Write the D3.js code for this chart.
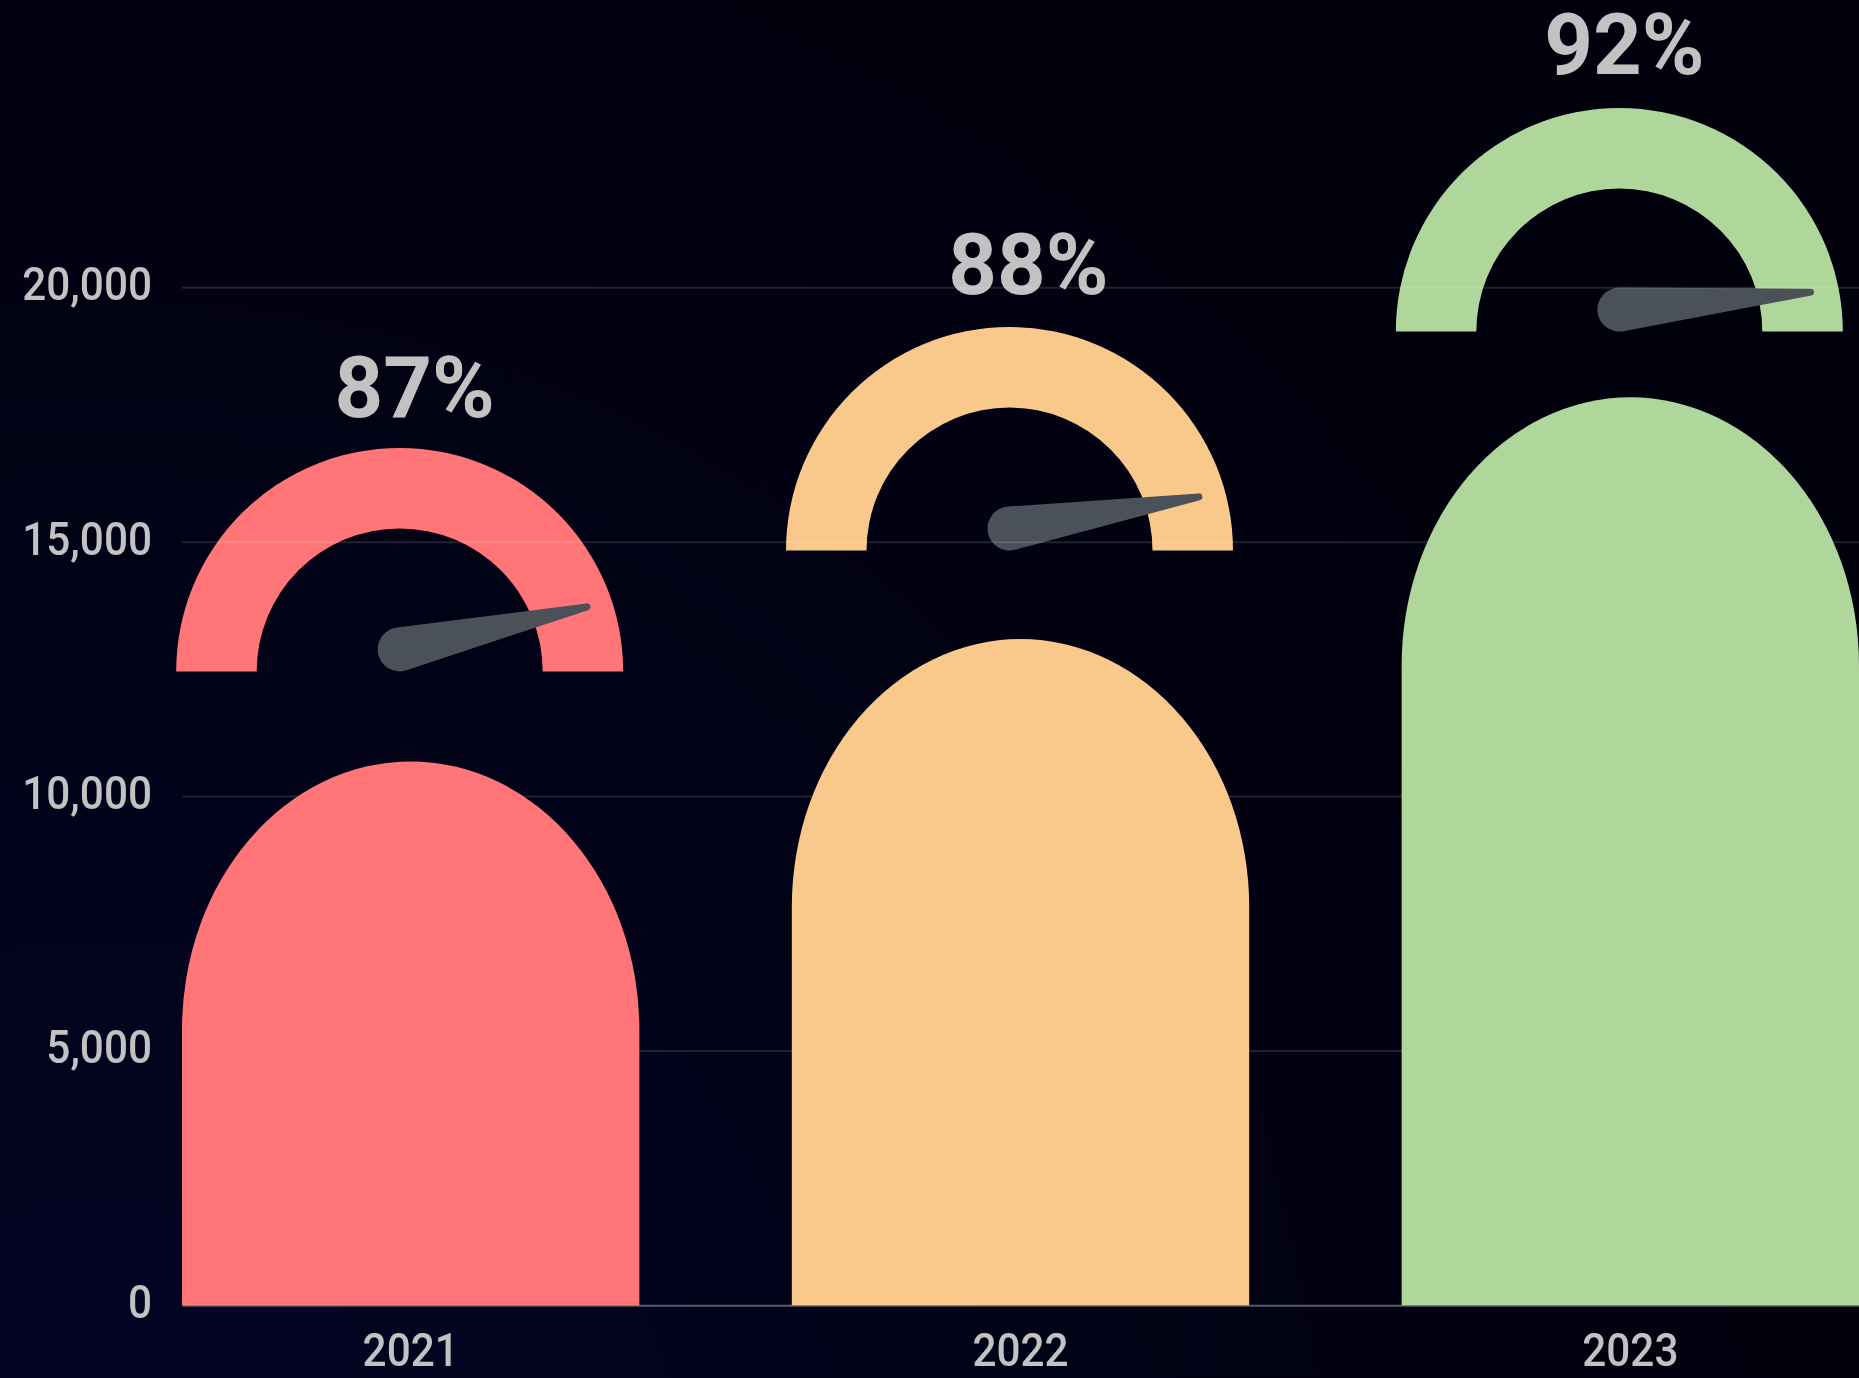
<!DOCTYPE html>
<html>
    <head>
        <title>Pictorial gauge bars</title>
        <script src="https://d3js.org/d3.v7.min.js"></script>
        <style>
            html, body { margin: 0; padding: 0; background: #01010f; overflow: hidden; }
            text { font-family: Roboto, sans-serif; fill: #c2c2c2; }
            svg { filter: blur(0.5px); }
        </style>
    </head>
    <body>
        <script type='text/javascript'>
            // chart values
            var years = ['2021', '2022', '2023'];
            var barValues = [10690, 13100, 17850];
            var gaugeBaseValues = [12460, 14835, 19140];
            var percents = [87, 88, 92];
            var needleDegrees = [12.8, 9.5, 5.2];
            var barColors = ['#ff7578', '#f8c98b', '#afd69b'];
            var yTicks = [0, 5000, 10000, 15000, 20000];

            var w = 1859;
            var h = 1378;

            // layout, in pixels
            var left = 182;
            var baseline = 1305.3;
            var capHeight = 268;
            var gaugeOuter = 223.5;
            var gaugeInner = 143;
            var gaugeShift = -11;
            var hubRadius = 22;
            var tipRadius = 3.5;
            var needleLength = 192;
            var labelShift = [15, 19, 5];
            var labelRise = [31, 33, 34.5];
            var narrow = 0.92;

            var xScale = d3.scaleBand()
                            .domain(years)
                            .range([left, w])
                            .paddingInner(0.25);

            var yScale = d3.scaleLinear()
                            .domain([0, 20000])
                            .range([baseline, 287.8]);

            var svg = d3.select('body')
                        .append('svg')
                        .attr('width', w)
                        .attr('height', h)
                        .style('display', 'block');

            // background glow from the bottom left corner
            var glow = svg.append('defs')
                            .append('radialGradient')
                            .attr('id', 'glow')
                            .attr('gradientUnits', 'userSpaceOnUse')
                            .attr('cx', 100)
                            .attr('cy', h + 150)
                            .attr('r', 1700);
            glow.append('stop').attr('offset', '0%').attr('stop-color', '#040526');
            glow.append('stop').attr('offset', '50%').attr('stop-color', '#020218');
            glow.append('stop').attr('offset', '100%').attr('stop-color', '#01010e');

            svg.append('rect')
                .attr('width', w)
                .attr('height', h)
                .attr('fill', 'url(#glow)');

            // gauges sit under the grid, the bars on top of it
            var arc = d3.arc()
                        .innerRadius(gaugeInner)
                        .outerRadius(gaugeOuter)
                        .startAngle(-Math.PI / 2)
                        .endAngle(Math.PI / 2);

            var gauges = svg.selectAll('.gauge')
                            .data(years)
                            .enter()
                            .append('g')
                            .attr('class', 'gauge')
                            .attr('transform', function(d, i) {
                                return 'translate(' + (xScale(d) + xScale.bandwidth() / 2 + gaugeShift) + ',' + yScale(gaugeBaseValues[i]) + ')';
                            });

            gauges.append('path')
                .attr('d', arc())
                .attr('fill', function(d, i) { return barColors[i]; });

            // needle: hub circle and tip circle joined by their tangents
            var sinA = (hubRadius - tipRadius) / needleLength;
            var cosA = Math.sqrt(1 - sinA * sinA);
            var needle = 'M' + (hubRadius * sinA) + ',' + (-hubRadius * cosA)
                + 'L' + (needleLength + tipRadius * sinA) + ',' + (-tipRadius * cosA)
                + 'A' + tipRadius + ',' + tipRadius + ' 0 0 1 ' + (needleLength + tipRadius * sinA) + ',' + (tipRadius * cosA)
                + 'L' + (hubRadius * sinA) + ',' + (hubRadius * cosA)
                + 'A' + hubRadius + ',' + hubRadius + ' 0 1 1 ' + (hubRadius * sinA) + ',' + (-hubRadius * cosA) + 'Z';

            gauges.append('path')
                .attr('d', needle)
                .attr('fill', '#4b5159')
                .attr('transform', function(d, i) {
                    return 'translate(0,' + (-hubRadius) + ') rotate(' + (-needleDegrees[i]) + ')';
                });

            gauges.append('text')
                .attr('x', function(d, i) { return labelShift[i]; })
                .attr('y', function(d, i) { return -gaugeOuter - labelRise[i]; })
                .attr('text-anchor', 'middle')
                .attr('font-size', 85)
                .attr('font-weight', 700)
                .text(function(d, i) { return percents[i] + '%'; });

            // y axis and grid
            var yAxis = d3.axisLeft(yScale)
                            .tickValues(yTicks)
                            .tickFormat(d3.format(','))
                            .tickSize(0)
                            .tickPadding(30);

            var yG = svg.append('g')
                        .attr('transform', 'translate(' + left + ',0)')
                        .call(yAxis);
            yG.select('.domain').remove();
            yG.selectAll('.tick text')
                .attr('font-size', 46)
                .attr('dy', 12);

            svg.append('g')
                .selectAll('line')
                .data(yTicks.slice(1))
                .enter()
                .append('line')
                .attr('x1', left)
                .attr('x2', w)
                .attr('y1', function(d) { return yScale(d); })
                .attr('y2', function(d) { return yScale(d); })
                .attr('stroke', 'rgba(255,255,255,0.13)')
                .attr('stroke-width', 2);

            // bars with an elliptical cap
            svg.selectAll('.bar')
                .data(years)
                .enter()
                .append('path')
                .attr('class', 'bar')
                .attr('fill', function(d, i) { return barColors[i]; })
                .attr('d', function(d, i) {
                    var x0 = xScale(d);
                    var x1 = x0 + xScale.bandwidth();
                    var rx = xScale.bandwidth() / 2;
                    var top = yScale(barValues[i]);
                    return 'M' + x0 + ',' + baseline
                        + 'L' + x0 + ',' + (top + capHeight)
                        + 'A' + rx + ',' + capHeight + ' 0 0 1 ' + x1 + ',' + (top + capHeight)
                        + 'L' + x1 + ',' + baseline + 'Z';
                });

            // x axis
            var xAxis = d3.axisBottom(xScale)
                            .tickSize(0)
                            .tickPadding(28);

            var xG = svg.append('g')
                        .attr('transform', 'translate(0,' + baseline + ')')
                        .call(xAxis);
            xG.select('.domain')
                .attr('stroke', 'rgba(255,255,255,0.35)')
                .attr('stroke-width', 2);
            xG.selectAll('.tick text')
                .attr('font-size', 46);

            // axis labels are narrower than plain Roboto
            svg.selectAll('.tick text')
                .style('font-family', 'Roboto, sans-serif')
                .style('font-weight', 500)
                .attr('fill', '#c2c2c2')
                .each(function() {
                    this.setAttribute('textLength', this.getComputedTextLength() * narrow);
                    this.setAttribute('lengthAdjust', 'spacingAndGlyphs');
                });
        </script>
    </body>
</html>
